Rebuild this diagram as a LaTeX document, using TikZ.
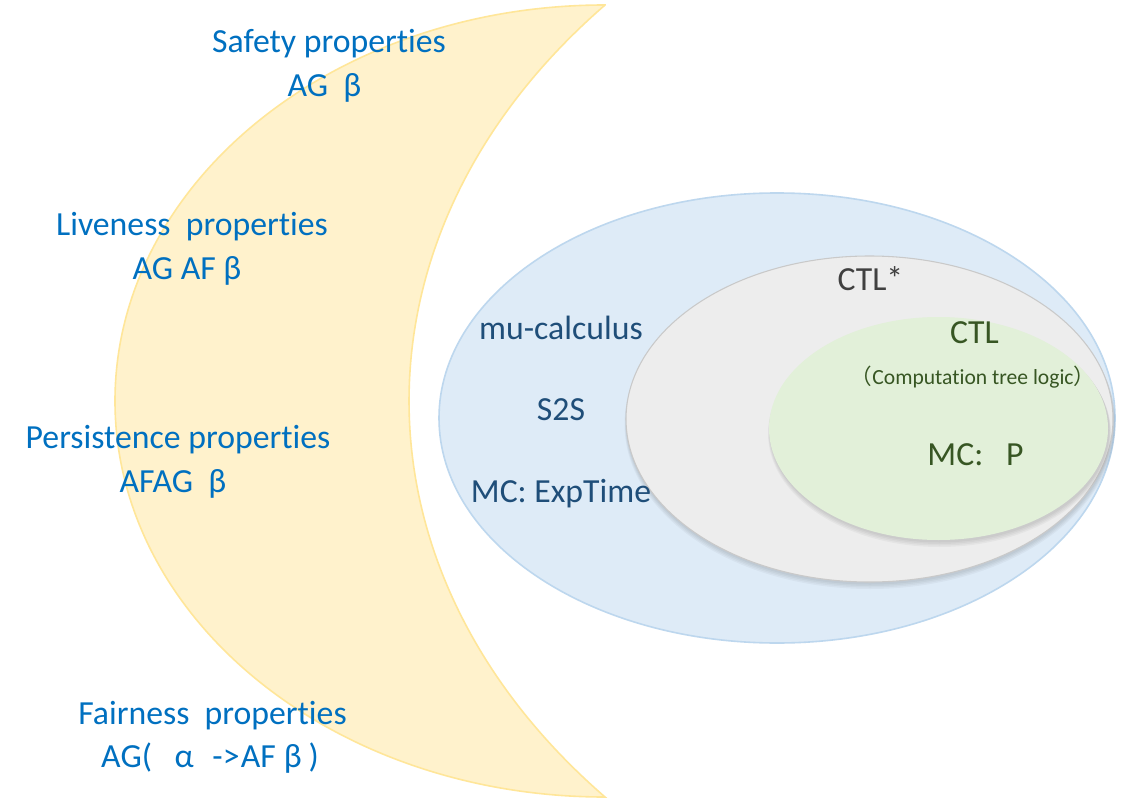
\documentclass[tikz,border=0pt]{standalone}
\usepackage{fontspec}
\setmainfont{Carlito}[Ligatures={NoCommon}]
\newfontfamily\cjk{Noto Sans CJK SC}
\definecolor{moonfill}{HTML}{FFF2CC}
\definecolor{moonline}{HTML}{FFE699}
\definecolor{bluefill}{HTML}{DEEBF7}
\definecolor{blueline}{HTML}{BDD7EE}
\definecolor{grayfill}{HTML}{EDEDED}
\definecolor{grayline}{HTML}{C9C9C9}
\definecolor{greenfill}{HTML}{E2F0D9}
\definecolor{propblue}{HTML}{0070C0}
\definecolor{navy}{HTML}{1F4E79}
\definecolor{ctlgray}{HTML}{404040}
\definecolor{ctlgreen}{HTML}{375623}
\tikzset{
  txt/.style={inner sep=0pt, anchor=base, font=\fontsize{25.3pt}{30pt}\selectfont},
  prop/.style={txt, text=propblue},
  logic/.style={txt, text=navy},
  star/.style={txt, text=ctlgray},
  ctl/.style={txt, text=ctlgreen},
  shade/.style={fill=black, opacity=0.035}
}
\begin{document}
\begin{tikzpicture}[x=0.75pt,y=-0.75pt]
\useasboundingbox (0,0) rectangle (1127,802);
\fill[white] (0,0) rectangle (1127,802);
% moon
\filldraw[fill=moonfill, draw=moonline, line width=1.2pt, line join=miter]
  (605,5) arc[start angle=-90, end angle=-270, x radius=490, y radius=396]
  arc[start angle=138.7, end angle=221.3, x radius=788, y radius=600] -- cycle;
% blue ellipse
\filldraw[fill=bluefill, draw=blueline, line width=1.2pt] (777,418) ellipse[x radius=338, y radius=225];
% gray ellipse with soft shadow
\foreach \d in {1,2,3,4}{
  \fill[shade] (870,420+\d) ellipse[x radius=243.5+0.5*\d, y radius=163+0.5*\d];
}
\filldraw[fill=grayfill, draw=grayline, line width=0.8pt] (869.5,419) ellipse[x radius=243.5, y radius=163];
% green ellipse with soft shadow
\foreach \d in {1,2,3,4}{
  \fill[shade] (939.5,429.5+\d) ellipse[x radius=169.5+0.5*\d, y radius=111.5+0.5*\d];
}
\fill[greenfill] (938.5,428.5) ellipse[x radius=169.5, y radius=111.5];
% properties
\node[prop] (safety) at (329,53) {Safety properties};
\node[prop] (safetyf) at (324.5,97) {AG\ \ β};
\node[prop] (live) at (192,236) {Liveness\ \ properties};
\node[prop] (livef) at (187,279) {AG AF β};
\node[prop] (pers) at (178,448) {Persistence properties};
\node[prop] (persf) at (173,492) {AFAG\ \ β};
\node[prop] (fair) at (212.5,724) {Fairness\ \ properties};
\node[prop] (fairf) at (210,767) {AG(\hspace{17pt}α\hspace{14pt}->\hspace{1pt}AF\hspace{6pt}β\hspace{5pt})};
% logics
\node[logic] (mu) at (561,339) {mu-calculus};
\node[logic] (s2s) at (561,420) {S2S};
\node[logic] (mcexp) at (561,502) {MC: ExpTime};
\node[star] (ctlstar) at (870.5,290) {CTL*};
\node[ctl] (ctl) at (974.5,343) {CTL};
\node[ctl, font=\fontsize{16.2pt}{19pt}\selectfont] (ctlname) at (973,384) {{\cjk （}Computation tree logic{\cjk ）}};
\node[ctl] (mcp) at (975.5,465) {MC:\ \ \ P};
\end{tikzpicture}
\end{document}
